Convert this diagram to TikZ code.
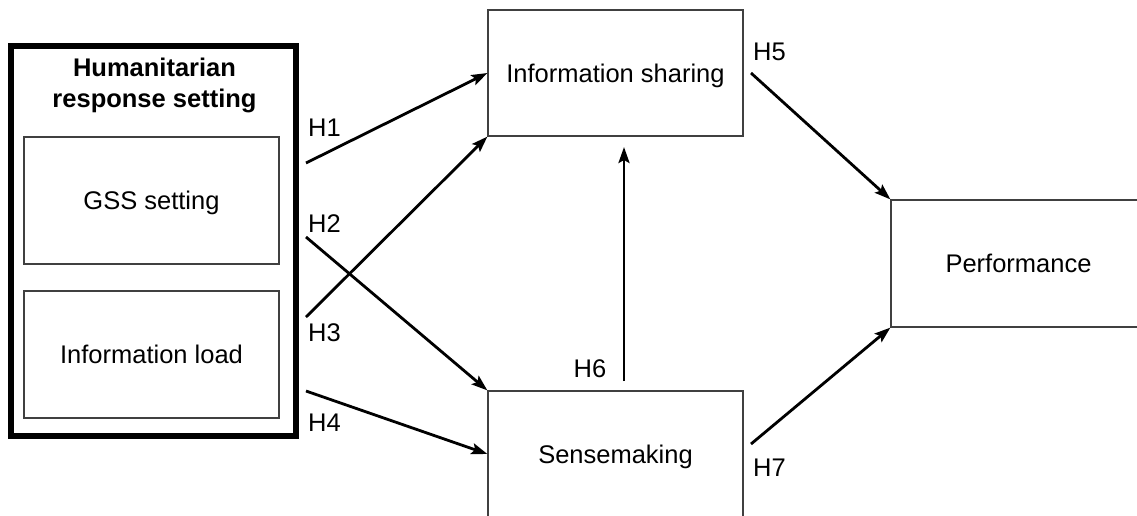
\documentclass[tikz,border=0pt]{standalone}
\usepackage{fontspec}
\setmainfont{Liberation Sans}
\usetikzlibrary{arrows.meta}
\tikzset{
  box/.style={draw=black!75, line width=1.2pt, minimum width=255pt, minimum height=126pt, inner sep=0pt, text depth=0pt, font=\fontsize{25.5}{31}\selectfont},
  frame/.style={draw=black, line width=6pt},
  conn/.style={line width=2.8pt, -{Stealth[length=16pt,width=11pt,inset=3pt]}},
  hlab/.style={inner sep=0pt, font=\fontsize{25.5}{31}\selectfont},
}
\begin{document}
\begin{tikzpicture}[x=1pt,y=-1pt]
\useasboundingbox (0,0) rectangle (1137,515);
\clip (0,0) rectangle (1137,515);
\fill[white] (0,0) rectangle (1137,515);
% outer frame
\draw[frame] (11,46) rectangle (296,436);
\node[inner sep=0pt, align=center, font=\fontsize{25.5}{31}\selectfont\bfseries] (title) at (154.5,85) {Humanitarian\\response setting};
% boxes
\node[box, minimum height=127pt] (gss) at (151.5,200.5) {GSS setting};
\node[box, minimum height=127pt] (load) at (151.5,354.5) {Information load};
\node[box] (share) at (615.5,73) {Information sharing};
\node[box] (sense) at (615.5,454) {Sensemaking};
\node[box, minimum height=127pt] (perf) at (1018.5,263.5) {Performance};
% start coordinates
\coordinate (s1) at (306,163);
\coordinate (s2) at (306,237);
\coordinate (s3) at (306,317);
\coordinate (s4) at (306,391);
\coordinate (s5) at (751,73);
\coordinate (s7) at (751,444);
\coordinate (s6) at (624,381);
\coordinate (e6) at (624,147);
% connectors
\draw[conn] (s1) -- (share.west);
\draw[conn] (s3) -- (share.south west);
\draw[conn] (s2) -- (sense.north west);
\draw[conn] (s4) -- (sense.west);
\draw[conn] (s5) -- (perf.north west);
\draw[conn] (s7) -- (perf.south west);
\draw[conn] (s6) -- (e6);
% labels
\node[hlab, anchor=west] (h1) at (308,128) {H1};
\node[hlab, anchor=west] (h2) at (308,224) {H2};
\node[hlab, anchor=west] (h3) at (308,333) {H3};
\node[hlab, anchor=west] (h4) at (308,423) {H4};
\node[hlab, anchor=west] (h5) at (753,52) {H5};
\node[hlab] (h6) at (590,369) {H6};
\node[hlab, anchor=west] (h7) at (753,468) {H7};
\end{tikzpicture}
\end{document}
